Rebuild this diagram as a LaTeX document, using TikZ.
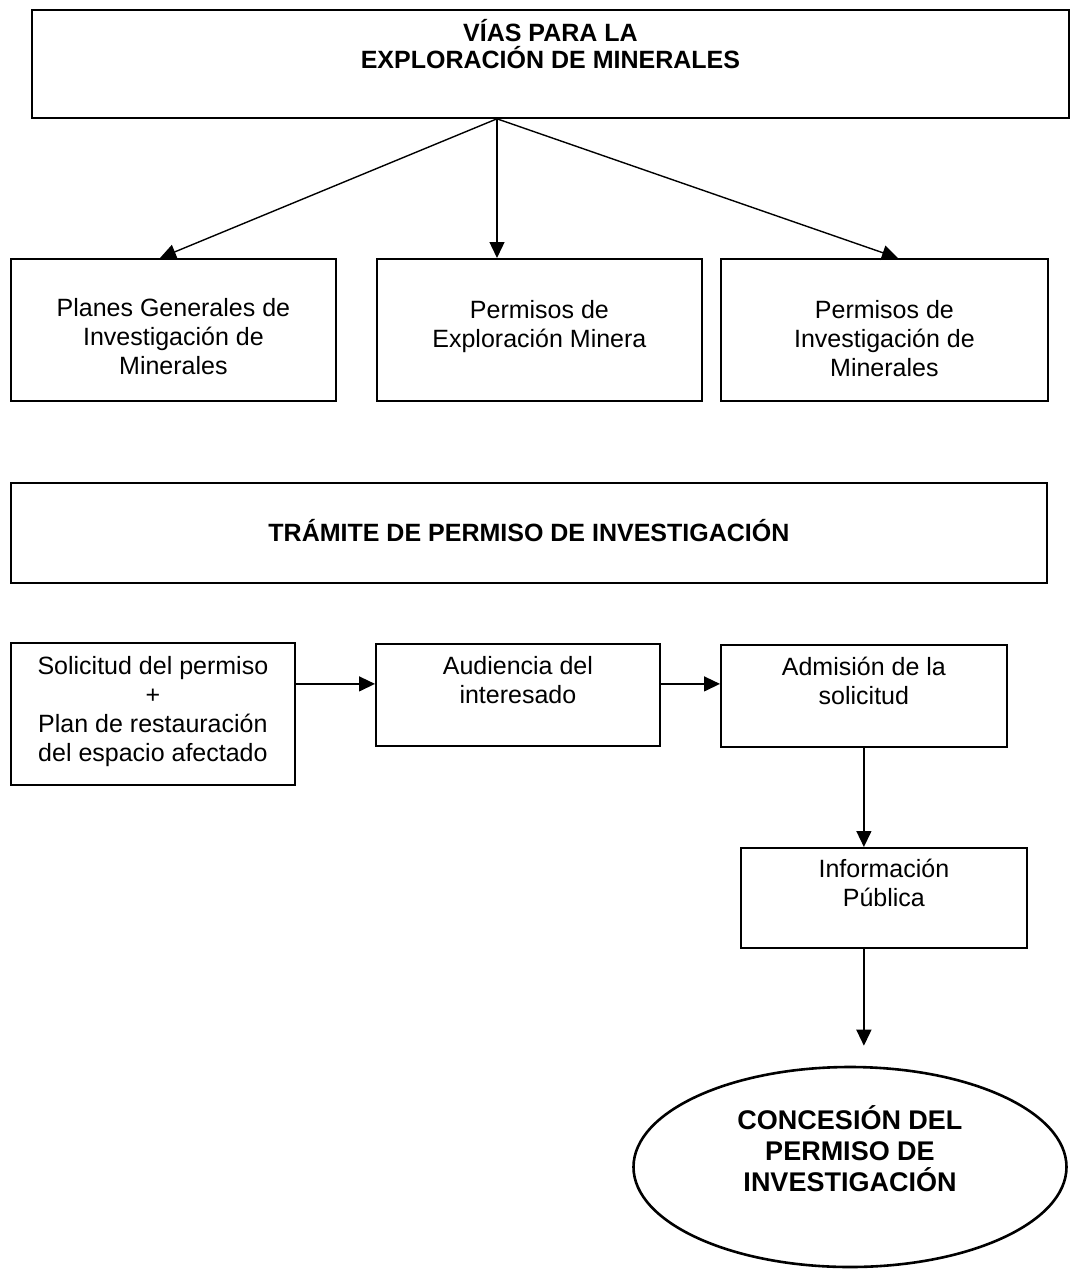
\documentclass[tikz,border=0pt]{standalone}
\usepackage{fontspec}
\setmainfont{Liberation Sans}
\usetikzlibrary{positioning, arrows.meta, shapes.geometric}

\begin{document}
\begin{tikzpicture}[x=1pt, y=1pt,
        block/.style={rectangle, draw, line width=1.8pt, inner sep=0pt, anchor=north west},
        txt/.style={align=center, inner sep=0pt, font=\fontsize{25}{29}\selectfont},
        head/.style={align=center, inner sep=0pt, font=\fontsize{25}{27}\selectfont\bfseries},
        arrow/.style={-{Triangle[length=16pt, width=15pt]}, line width=1.4pt},
    ]
        \useasboundingbox (0,0) rectangle (1070,-1270);

        \node[block, minimum width=1037pt, minimum height=108pt] (vias) at (31,-9) {};
        \node[block, minimum width=325pt, minimum height=142pt] (planes) at (10,-258) {};
        \node[block, minimum width=325pt, minimum height=142pt] (explo) at (376,-258) {};
        \node[block, minimum width=327pt, minimum height=142pt] (invest) at (720,-258) {};
        \node[block, minimum width=1036pt, minimum height=100pt] (tramite) at (10,-482) {};
        \node[block, minimum width=284pt, minimum height=142pt] (solic) at (10,-642) {};
        \node[block, minimum width=284pt, minimum height=102pt] (audi) at (375,-643) {};
        \node[block, minimum width=286pt, minimum height=102pt] (admi) at (720,-644) {};
        \node[block, minimum width=286pt, minimum height=100pt] (info) at (740,-847) {};
        \node[ellipse, draw, line width=2.6pt, inner sep=0pt, minimum width=433pt, minimum height=200pt] (conc) at (850,-1167) {};

        \node[head, below=10pt of vias.north] (vias-txt) {VÍAS PARA LA\\EXPLORACIÓN DE MINERALES};
        \node[txt, below=40pt of planes.north] (planes-txt) {Planes Generales de\\Investigación de\\Minerales};
        \node[txt, below=42pt of explo.north] (explo-txt) {Permisos de\\Exploración Minera};
        \node[txt, below=42pt of invest.north] (invest-txt) {Permisos de\\Investigación de\\Minerales};
        \node[head, below=37pt of tramite.north] (tramite-txt) {TRÁMITE DE PERMISO DE INVESTIGACIÓN};
        \node[txt, below=14pt of solic.north] (solic-txt) {Solicitud del permiso\\+\\Plan de restauración\\del espacio afectado};
        \node[txt, below=13pt of audi.north] (audi-txt) {Audiencia del\\interesado};
        \node[txt, below=13pt of admi.north] (admi-txt) {Admisión de la\\solicitud};
        \node[txt, below=12pt of info.north] (info-txt) {Información\\Pública};
        \node[head, font=\fontsize{27}{31}\selectfont\bfseries, below=40pt of conc.north] (conc-txt) {CONCESIÓN DEL\\PERMISO DE\\INVESTIGACIÓN};

        \coordinate (fork) at ([xshift=466pt]vias.south west);
        \draw[arrow] (fork) -- ([xshift=150pt]planes.north west);
        \draw[arrow] (fork) -- ([xshift=121pt]explo.north west);
        \draw[arrow] (fork) -- ([xshift=178pt]invest.north west);

        \draw[arrow] ([yshift=30pt]solic.east) -- ([yshift=11pt]audi.west);
        \draw[arrow] ([yshift=11pt]audi.east) -- ([yshift=11pt]audi.east -| admi.west);
        \draw[arrow] (admi.south) -- (admi.south |- info.north);
        \draw[arrow, shorten >=20pt] (admi.south |- info.south) -- (admi.south |- conc.north);
    \end{tikzpicture}
\end{document}
